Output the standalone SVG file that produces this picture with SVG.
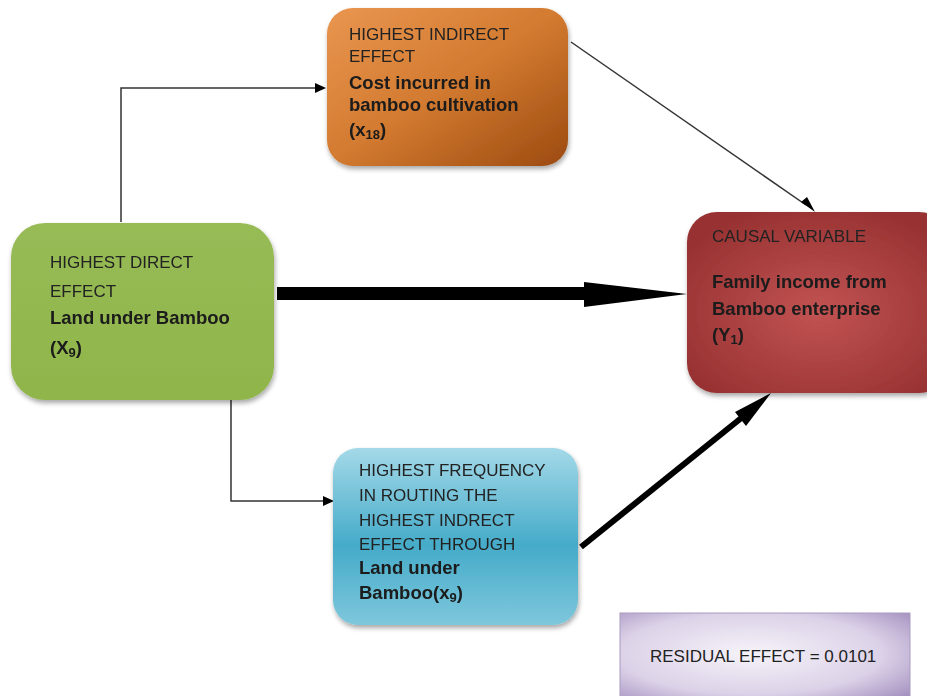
<svg xmlns="http://www.w3.org/2000/svg" width="927" height="696" viewBox="0 0 927 696">
  <defs>
    <linearGradient id="gOrange" x1="0" y1="0" x2="1" y2="1">
      <stop offset="0" stop-color="#ea9650"/>
      <stop offset="0.5" stop-color="#d27a30"/>
      <stop offset="1" stop-color="#9c4a10"/>
    </linearGradient>
    <linearGradient id="gGreen" x1="0" y1="0" x2="0" y2="1">
      <stop offset="0" stop-color="#97bb55"/>
      <stop offset="1" stop-color="#8fb54b"/>
    </linearGradient>
    <radialGradient id="gRed" cx="0.5" cy="0.55" r="0.6">
      <stop offset="0" stop-color="#c25353"/>
      <stop offset="1" stop-color="#983232"/>
    </radialGradient>
    <linearGradient id="gBlue" x1="0" y1="0" x2="0" y2="1">
      <stop offset="0" stop-color="#a4d9e8"/>
      <stop offset="0.55" stop-color="#45abc9"/>
      <stop offset="1" stop-color="#7ec7dc"/>
    </linearGradient>
    <radialGradient id="gPurple" cx="0.45" cy="0.45" r="0.75">
      <stop offset="0" stop-color="#f6f3f9"/>
      <stop offset="0.6" stop-color="#dcd2e8"/>
      <stop offset="1" stop-color="#9e89bb"/>
    </radialGradient>
    <filter id="shadow" x="-10%" y="-10%" width="125%" height="130%">
      <feGaussianBlur in="SourceAlpha" stdDeviation="2.5"/>
      <feOffset dx="1" dy="3" result="b"/>
      <feComponentTransfer><feFuncA type="linear" slope="0.35"/></feComponentTransfer>
      <feMerge><feMergeNode/><feMergeNode in="SourceGraphic"/></feMerge>
    </filter>
  </defs>
  <style>
    .t { font-family: "Liberation Sans", Arial, sans-serif; font-size: 17px; fill: #222; }
    .b { font-family: "Liberation Sans", Arial, sans-serif; font-size: 18.5px; font-weight: bold; fill: #1a1a1a; }
    .sub { font-size: 13px; }
    .thin { fill: none; stroke: #333; stroke-width: 1.5; }
  </style>

  <rect width="927" height="696" fill="#ffffff"/>

  <!-- connectors -->
  <g id="connectors">
    <polyline class="thin" points="121,222 121,88 315,88"/>
    <path d="M315,83 L326,88 L315,93 z" fill="#000"/>
    <polyline class="thin" points="231,400 231,501 323,501"/>
    <path d="M323,496 L334,501 L323,506 z" fill="#000"/>
    <line class="thin" x1="571" y1="42" x2="806" y2="205"/>
    <path d="M801,202 L815,212 L807,197 z" fill="#000"/>
    <!-- thick direct-effect arrow -->
    <path d="M277,287 L584,287 L584,282 L687,294 L584,307 L584,300 L277,300 z" fill="#000"/>
    <!-- routed arrow -->
    <line x1="581" y1="547" x2="745" y2="415" stroke="#000" stroke-width="6"/>
    <path d="M735,412 L771,393 L746,426 z" fill="#000"/>
  </g>

  <!-- indirect effect node -->
  <g id="node-indirect" filter="url(#shadow)">
    <rect x="327" y="8" width="241" height="158" rx="26" fill="url(#gOrange)"/>
    <text class="t" x="349" y="40">HIGHEST INDIRECT</text>
    <text class="t" x="349" y="62">EFFECT</text>
    <text class="b" x="349" y="89">Cost incurred in</text>
    <text class="b" x="349" y="111">bamboo cultivation</text>
    <text class="b" x="349" y="136">(x<tspan class="sub" dy="3">18</tspan><tspan dy="-3">)</tspan></text>
  </g>

  <!-- direct effect node -->
  <g id="node-direct" filter="url(#shadow)">
    <rect x="11" y="223" width="263" height="177" rx="34" fill="url(#gGreen)"/>
    <text class="t" x="50" y="268">HIGHEST DIRECT</text>
    <text class="t" x="50" y="297">EFFECT</text>
    <text class="b" x="50" y="324">Land under Bamboo</text>
    <text class="b" x="50" y="354">(X<tspan class="sub" dy="3">9</tspan><tspan dy="-3">)</tspan></text>
  </g>

  <!-- causal variable node -->
  <g id="node-causal" filter="url(#shadow)">
    <rect x="687" y="212" width="262" height="181" rx="30" fill="url(#gRed)"/>
    <text class="t" x="712" y="242">CAUSAL VARIABLE</text>
    <text class="b" x="712" y="288">Family income from</text>
    <text class="b" x="712" y="315">Bamboo enterprise</text>
    <text class="b" x="712" y="341">(Y<tspan class="sub" dy="3">1</tspan><tspan dy="-3">)</tspan></text>
  </g>

  <!-- routing node -->
  <g id="node-routing" filter="url(#shadow)">
    <rect x="333" y="448" width="245" height="177" rx="25" fill="url(#gBlue)"/>
    <text class="t" x="359" y="476">HIGHEST FREQUENCY</text>
    <text class="t" x="359" y="501">IN ROUTING THE</text>
    <text class="t" x="359" y="526">HIGHEST INDRECT</text>
    <text class="t" x="359" y="550">EFFECT THROUGH</text>
    <text class="b" x="359" y="574">Land under</text>
    <text class="b" x="359" y="599">Bamboo(x<tspan class="sub" dy="3">9</tspan><tspan dy="-3">)</tspan></text>
  </g>

  <!-- residual effect -->
  <g id="node-residual">
    <rect x="620" y="613" width="290" height="90" fill="url(#gPurple)" stroke="#a99cc0" stroke-width="1"/>
    <text class="t" x="650" y="662">RESIDUAL EFFECT = 0.0101</text>
  </g>
</svg>
